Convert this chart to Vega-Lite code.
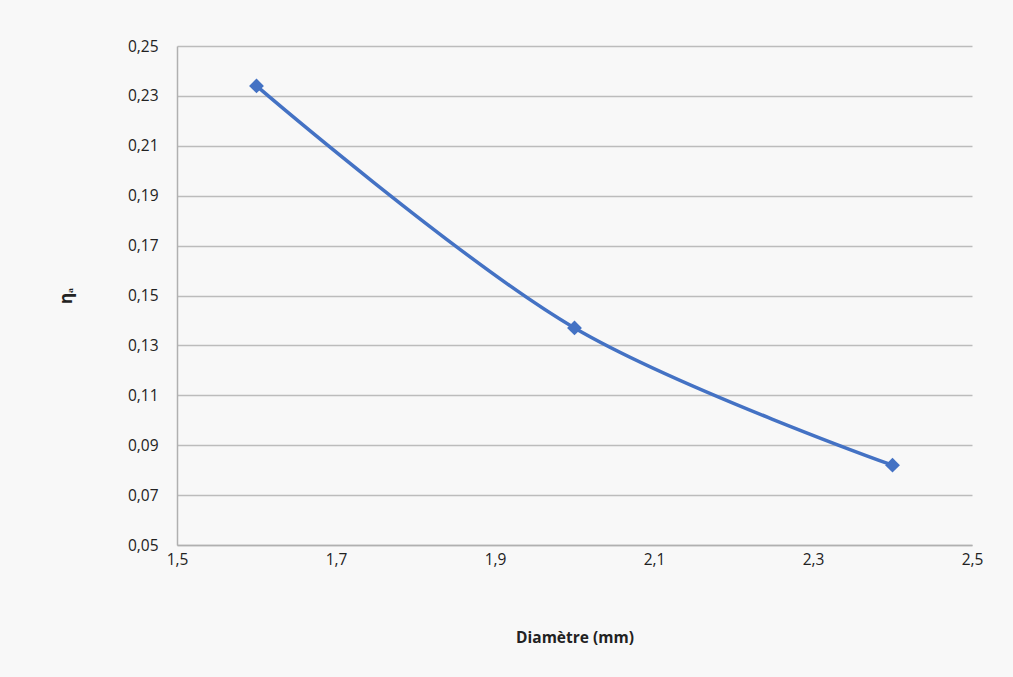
{
  "$schema": "https://vega.github.io/schema/vega-lite/v6.json",
  "width": 795,
  "height": 499,
  "autosize": {"type": "none"},
  "padding": {"left": 177, "top": 46, "right": 41, "bottom": 132},
  "background": "#f8f8f8",
  "config": {
    "locale": {"number": {"decimal": ",", "thousands": " ", "grouping": [3], "currency": ["", " €"]}},
    "view": {"stroke": null},
    "font": "Open Sans"
  },
  "data": {"values": [
    {"d": 1.6, "eta": 0.234},
    {"d": 2.0, "eta": 0.137},
    {"d": 2.4, "eta": 0.082}
  ]},
  "encoding": {
    "x": {"field": "d", "type": "quantitative",
      "scale": {"domain": [1.5, 2.5], "nice": false, "zero": false},
      "axis": {"title": "Diamètre (mm)", "values": [1.5, 1.7, 1.9, 2.1, 2.3, 2.5], "format": ".1f",
        "grid": false, "ticks": false, "domainColor": "#b0b0b0", "domainWidth": 1.5,
        "labelFontSize": 15.5, "labelColor": "#222", "labelPadding": 7, "labelFlush": false,
        "titleFontSize": 15.5, "titleFontWeight": "bold", "titleColor": "#222", "titlePadding": 63}},
    "y": {"field": "eta", "type": "quantitative",
      "scale": {"domain": [0.05, 0.25], "nice": false, "zero": false},
      "axis": {"title": "ηₐ", "values": [0.05, 0.07, 0.09, 0.11, 0.13, 0.15, 0.17, 0.19, 0.21, 0.23, 0.25], "format": ".2f",
        "grid": true, "gridColor": "#bcbcbc", "gridWidth": 1.5, "ticks": false,
        "domainColor": "#b0b0b0", "domainWidth": 1.5,
        "labelFontSize": 15.5, "labelColor": "#222", "labelPadding": 19,
        "titleFontSize": 17, "titleFontWeight": "bold", "titleColor": "#222", "titlePadding": 52}}
  },
  "layer": [
    {"mark": {"type": "line", "interpolate": "catmull-rom", "color": "#4472C4", "strokeWidth": 3.5}},
    {"mark": {"type": "point", "shape": "diamond", "filled": true, "color": "#4472C4", "size": 220, "opacity": 1}}
  ]
}
